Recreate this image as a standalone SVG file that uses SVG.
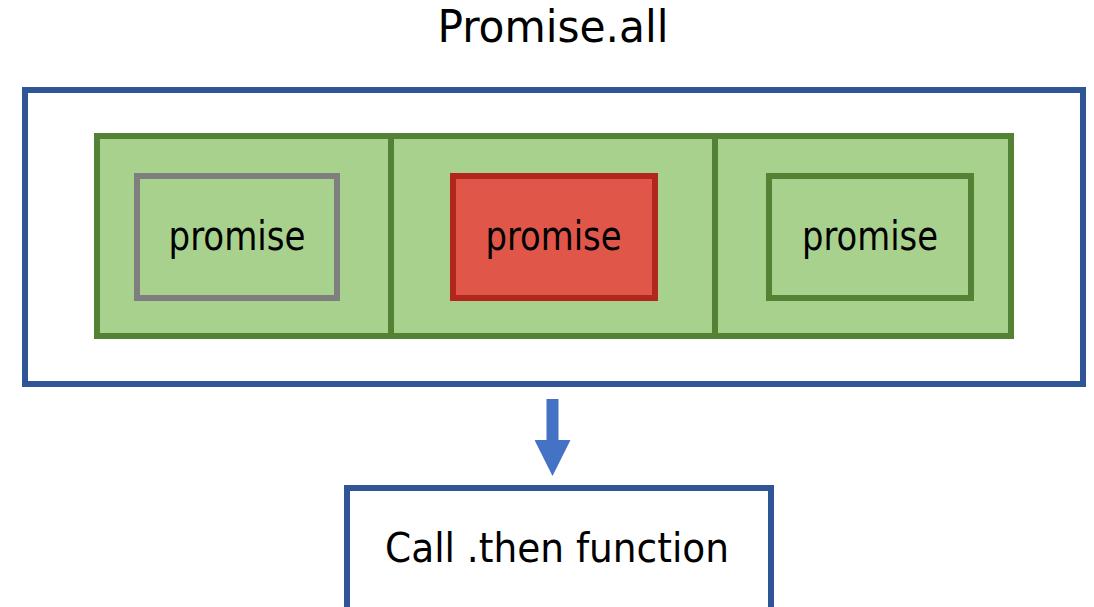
<svg xmlns="http://www.w3.org/2000/svg" width="1094" height="607" viewBox="0 0 1094 607">
  <style>
    .label { font-family: "DejaVu Sans Condensed", "DejaVu Sans", Verdana, sans-serif; fill: #000000; text-anchor: middle; }
    .frame { fill: #FFFFFF; stroke: #2F5597; stroke-width: 6; }
    .set { fill: #A9D18E; stroke: #548235; stroke-width: 6; }
    .divider { stroke: #548235; stroke-width: 6; }
    .pending { fill: #A9D18E; stroke: #7F7F7F; stroke-width: 6; }
    .rejected { fill: #E0574A; stroke: #B3261E; stroke-width: 6; }
    .resolved { fill: #A9D18E; stroke: #548235; stroke-width: 6; }
    .flow { stroke: #4472C4; stroke-width: 12; fill: none; }
  </style>
  <defs>
    <marker id="arrowhead" markerUnits="userSpaceOnUse" markerWidth="36" markerHeight="36" viewBox="0 0 36 36" refX="1" refY="18" orient="auto">
      <path d="M0,0 L36,18 L0,36 Z" fill="#4472C4"/>
    </marker>
  </defs>

  <rect width="1094" height="607" fill="#FFFFFF"/>

  <!-- Promise.all container -->
  <g id="promise-all">
    <text class="label" x="553" y="42" font-size="44" textLength="231" lengthAdjust="spacingAndGlyphs">Promise.all</text>
    <rect class="frame" x="25" y="90" width="1058" height="294"/>
  </g>

  <!-- three-slot strip of promises -->
  <g id="promise-slots">
    <rect class="set" x="97" y="136" width="914" height="200"/>
    <line class="divider" x1="391" y1="136" x2="391" y2="336"/>
    <line class="divider" x1="715" y1="136" x2="715" y2="336"/>
  </g>

  <g id="promise-1">
    <rect class="pending" x="137" y="176" width="200" height="122"/>
    <text class="label" x="237" y="250" font-size="40" textLength="137" lengthAdjust="spacingAndGlyphs">promise</text>
  </g>

  <g id="promise-2">
    <rect class="rejected" x="453" y="176" width="202" height="122"/>
    <text class="label" x="553.5" y="250" font-size="40" textLength="136" lengthAdjust="spacingAndGlyphs">promise</text>
  </g>

  <g id="promise-3">
    <rect class="resolved" x="769" y="176" width="202" height="122"/>
    <text class="label" x="870" y="250" font-size="40" textLength="136" lengthAdjust="spacingAndGlyphs">promise</text>
  </g>

  <!-- then handler -->
  <g id="then-call">
    <rect class="frame" x="347" y="488" width="424" height="150"/>
    <text class="label" x="557" y="562" font-size="40" textLength="344" lengthAdjust="spacingAndGlyphs">Call .then function</text>
  </g>

  <g id="connectors">
    <line class="flow" x1="552.5" y1="399" x2="552.5" y2="441" marker-end="url(#arrowhead)"/>
  </g>
</svg>
